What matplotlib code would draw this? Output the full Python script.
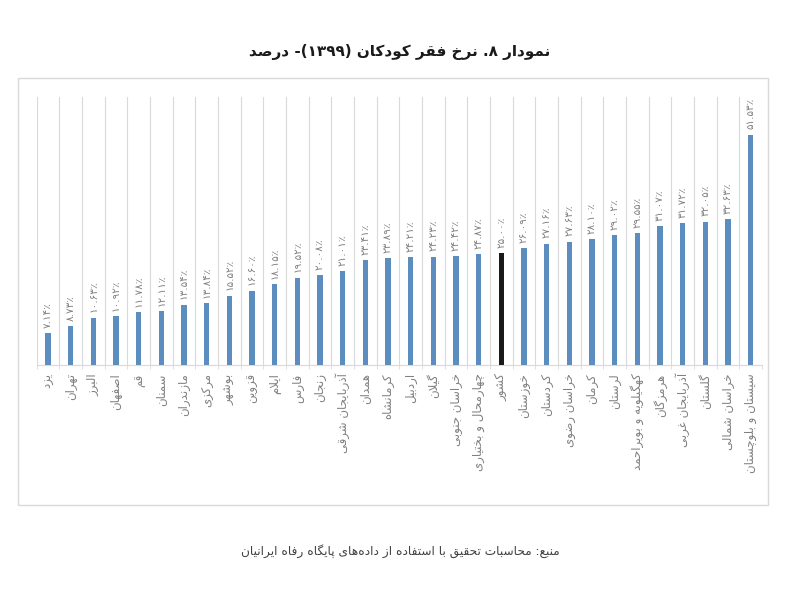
import matplotlib
matplotlib.use("Agg")
import matplotlib.pyplot as plt
from matplotlib import font_manager
from matplotlib.patches import Rectangle
import numpy as np

# ---------------- data ----------------
categories = ["یزد", "تهران", "البرز", "اصفهان", "قم", "سمنان", "مازندران", "مرکزی",
              "بوشهر", "قزوین", "ایلام", "فارس", "زنجان", "آذربایجان شرقی", "همدان",
              "کرمانشاه", "اردبیل", "گیلان", "خراسان جنوبی", "چهارمحال و بختیاری",
              "کشور", "خوزستان", "کردستان", "خراسان رضوی", "کرمان", "لرستان",
              "کهگیلویه و بویراحمد", "هرمزگان", "آذربایجان غربی", "گلستان",
              "خراسان شمالی", "سیستان و بلوچستان"]
values = [7.14, 8.73, 10.63, 10.92, 11.78, 12.11, 13.54, 13.84, 15.52, 16.60,
          18.15, 19.52, 20.08, 21.01, 23.41, 23.89, 24.21, 24.23, 24.42, 24.87,
          25.00, 26.09, 27.16, 27.63, 28.10, 29.02, 29.55, 31.07, 31.72, 32.05,
          32.63, 51.53]
highlight = "کشور"
title_text = "نمودار ۸. نرخ فقر کودکان (۱۳۹۹)- درصد"
source_text = "منبع: محاسبات تحقیق با استفاده از داده\u200cهای پایگاه رفاه ایرانیان"

# ---------------- simple Persian shaping + bidi ----------------
FONT = "DejaVu Sans"
try:
    from fontTools.ttLib import TTFont
    _cmap = set(TTFont(font_manager.findfont(FONT))["cmap"].getBestCmap().keys())
except Exception:
    _cmap = None

def has(ch):
    return _cmap is None or ord(ch) in _cmap

FORMS = {
    'ا': ('\uFE8D', '\uFE8E', None, None), 'آ': ('\uFE81', '\uFE82', None, None),
    'ب': ('\uFE8F', '\uFE90', '\uFE91', '\uFE92'), 'پ': ('\uFB56', '\uFB57', '\uFB58', '\uFB59'),
    'ت': ('\uFE95', '\uFE96', '\uFE97', '\uFE98'), 'ث': ('\uFE99', '\uFE9A', '\uFE9B', '\uFE9C'),
    'ج': ('\uFE9D', '\uFE9E', '\uFE9F', '\uFEA0'), 'چ': ('\uFB7A', '\uFB7B', '\uFB7C', '\uFB7D'),
    'ح': ('\uFEA1', '\uFEA2', '\uFEA3', '\uFEA4'), 'خ': ('\uFEA5', '\uFEA6', '\uFEA7', '\uFEA8'),
    'د': ('\uFEA9', '\uFEAA', None, None), 'ذ': ('\uFEAB', '\uFEAC', None, None),
    'ر': ('\uFEAD', '\uFEAE', None, None), 'ز': ('\uFEAF', '\uFEB0', None, None),
    'ژ': ('\uFB8A', '\uFB8B', None, None),
    'س': ('\uFEB1', '\uFEB2', '\uFEB3', '\uFEB4'), 'ش': ('\uFEB5', '\uFEB6', '\uFEB7', '\uFEB8'),
    'ص': ('\uFEB9', '\uFEBA', '\uFEBB', '\uFEBC'), 'ض': ('\uFEBD', '\uFEBE', '\uFEBF', '\uFEC0'),
    'ط': ('\uFEC1', '\uFEC2', '\uFEC3', '\uFEC4'), 'ظ': ('\uFEC5', '\uFEC6', '\uFEC7', '\uFEC8'),
    'ع': ('\uFEC9', '\uFECA', '\uFECB', '\uFECC'), 'غ': ('\uFECD', '\uFECE', '\uFECF', '\uFED0'),
    'ف': ('\uFED1', '\uFED2', '\uFED3', '\uFED4'), 'ق': ('\uFED5', '\uFED6', '\uFED7', '\uFED8'),
    'ک': ('\uFB8E', '\uFB8F', '\uFB90', '\uFB91'), 'گ': ('\uFB92', '\uFB93', '\uFB94', '\uFB95'),
    'ل': ('\uFEDD', '\uFEDE', '\uFEDF', '\uFEE0'), 'م': ('\uFEE1', '\uFEE2', '\uFEE3', '\uFEE4'),
    'ن': ('\uFEE5', '\uFEE6', '\uFEE7', '\uFEE8'), 'ه': ('\uFEE9', '\uFEEA', '\uFEEB', '\uFEEC'),
    'و': ('\uFEED', '\uFEEE', None, None),
    'ی': ('\uFBFC', '\uFBFD', '\uFBFE', '\uFBFF'), 'ي': ('\uFEF1', '\uFEF2', '\uFEF3', '\uFEF4'),
    'ئ': ('\uFE89', '\uFE8A', '\uFE8B', '\uFE8C'),
}
DUAL = {c for c, f in FORMS.items() if f[2] is not None}
RIGHT = {c for c, f in FORMS.items() if f[2] is None}
LAMALEF = {'ا': ('\uFEFB', '\uFEFC'), 'آ': ('\uFEF5', '\uFEF6')}
DIGITS = set("0123456789۰۱۲۳۴۵۶۷۸۹")
MIRROR = {'(': ')', ')': '('}

def shape(s):
    out = []
    n = len(s)
    i = 0
    while i < n:
        c = s[i]
        prev = s[i - 1] if i > 0 else None
        pc = prev in DUAL
        if c == 'ل' and i + 1 < n and s[i + 1] in LAMALEF:
            g = LAMALEF[s[i + 1]][1 if pc else 0]
            out.append(g if has(g) else c + s[i + 1])
            i += 2
            continue
        if c in FORMS:
            nxt = s[i + 1] if i + 1 < n else None
            nc = c in DUAL and nxt is not None and (nxt in DUAL or nxt in RIGHT)
            iso, fin, ini, med = FORMS[c]
            if pc and nc:
                g = med
            elif pc:
                g = fin
            elif nc:
                g = ini
            else:
                g = iso
            out.append(g if has(g) else c)
        elif c == '\u200c':
            pass
        else:
            out.append(c)
        i += 1
    # visual reorder (RTL, numbers stay LTR)
    tokens = []
    j = 0
    while j < len(out):
        c = out[j]
        if c in DIGITS:
            k = j
            while k < len(out) and (out[k] in DIGITS or
                                    (out[k] in ".٫" and k + 1 < len(out) and out[k + 1] in DIGITS)):
                k += 1
            tokens.append((True, ''.join(out[j:k])))
            j = k
        else:
            tokens.append((False, c))
            j += 1
    vis = []
    for isnum, t in reversed(tokens):
        vis.append(t if isnum else MIRROR.get(t, t))
    return ''.join(vis)

def fa_digits(txt):
    return txt.translate(str.maketrans("0123456789", "۰۱۲۳۴۵۶۷۸۹"))

# ---------------- plot ----------------
W, H = 794, 593
fig = plt.figure(figsize=(W / 100, H / 100), dpi=100)
fig.patch.set_facecolor("white")

ax = fig.add_axes([36.7 / W, 1 - 365 / H, (762 - 36.7) / W, (365 - 97) / H])
x = np.arange(len(categories))
bar_colors = ["#1a1a1a" if c == highlight else "#5B8DBF" for c in categories]
ax.bar(x, values, width=0.23, color=bar_colors, zorder=3)

ax.set_xlim(-0.5, len(categories) - 0.5)
ax.set_ylim(0, 60)
ax.set_yticks([])
for s in ("left", "top", "right"):
    ax.spines[s].set_visible(False)
ax.spines["bottom"].set_color("#D9D9D9")
ax.spines["bottom"].set_linewidth(0.8)

ax.set_xticks(x)
ax.set_xticklabels([shape(c) for c in categories], rotation=90, fontsize=8.5,
                   color="#808080", family=FONT, va="top", ha="center")
ax.tick_params(axis="x", which="major", length=0, pad=6)
ax.set_xticks(np.arange(-0.5, len(categories)), minor=True)
ax.tick_params(axis="x", which="minor", length=3, color="#D9D9D9")
ax.grid(axis="x", which="minor", color="#D9D9D9", linewidth=0.8, zorder=0)

for xi, v in zip(x, values):
    lab = fa_digits(f"{v:.2f}") + "٪"
    if not has("٪"):
        lab = fa_digits(f"{v:.2f}") + "%"
    ax.text(xi, v + 1.2, lab, rotation=90, ha="center", va="bottom",
            fontsize=7.5, color="#808080", family=FONT)

fig.add_artist(Rectangle((18 / W, 1 - 505 / H), 750 / W, 427 / H, fill=False,
                         edgecolor="#D9D9D9", linewidth=1.0, transform=fig.transFigure))

fig.text(400 / W, 1 - 52 / H, shape(title_text), ha="center", va="center",
         fontsize=11, fontweight="bold", color="#1a1a1a", family=FONT)
fig.text(400 / W, 1 - 551 / H, shape(source_text), ha="center", va="center",
         fontsize=8.7, color="#404040", family=FONT)

fig.savefig("out.png", dpi=100, facecolor="white")
